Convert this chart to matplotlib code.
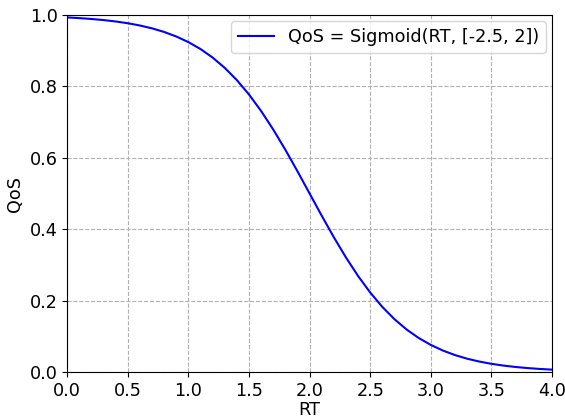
import matplotlib
matplotlib.use("Agg")
import matplotlib.pyplot as plt

# values
rt = [0.0, 0.1, 0.2, 0.3, 0.4, 0.5, 0.6, 0.7, 0.8, 0.9,
      1.0, 1.1, 1.2, 1.3, 1.4, 1.5, 1.6, 1.7, 1.8, 1.9,
      2.0, 2.1, 2.2, 2.3, 2.4, 2.5, 2.6, 2.7, 2.8, 2.9,
      3.0, 3.1, 3.2, 3.3, 3.4, 3.5, 3.6, 3.7, 3.8, 3.9, 4.0]
qos = [0.9933, 0.9914, 0.9890, 0.9859, 0.9820, 0.9770, 0.9707, 0.9627, 0.9526, 0.9399,
       0.9241, 0.9047, 0.8808, 0.8520, 0.8176, 0.7773, 0.7311, 0.6792, 0.6225, 0.5622,
       0.5000, 0.4378, 0.3775, 0.3208, 0.2689, 0.2227, 0.1824, 0.1480, 0.1192, 0.0953,
       0.0759, 0.0601, 0.0474, 0.0373, 0.0293, 0.0230, 0.0180, 0.0141, 0.0110, 0.0086, 0.0067]
label = "QoS = Sigmoid(RT, [-2.5, 2])"

fs = 12.7

fig = plt.figure(figsize=(5.65, 4.18), dpi=100)
ax = fig.add_axes([0.119, 0.110, 0.858, 0.854])
ax.plot(rt, qos, color="blue", linewidth=1.5, label=label)
ax.set_xlim(0, 4)
ax.set_ylim(0, 1)
ax.set_xticks([0.0, 0.5, 1.0, 1.5, 2.0, 2.5, 3.0, 3.5, 4.0])
ax.set_yticks([0.0, 0.2, 0.4, 0.6, 0.8, 1.0])
ax.tick_params(labelsize=fs)
ax.set_xlabel("RT", fontsize=fs, labelpad=1)
ax.set_ylabel("QoS", fontsize=fs)
ax.grid(True, linestyle="--", color="#b0b0b0", linewidth=0.8)
ax.legend(loc="upper right", fontsize=fs, borderaxespad=0.35)

fig.savefig("out.png", dpi=100)
